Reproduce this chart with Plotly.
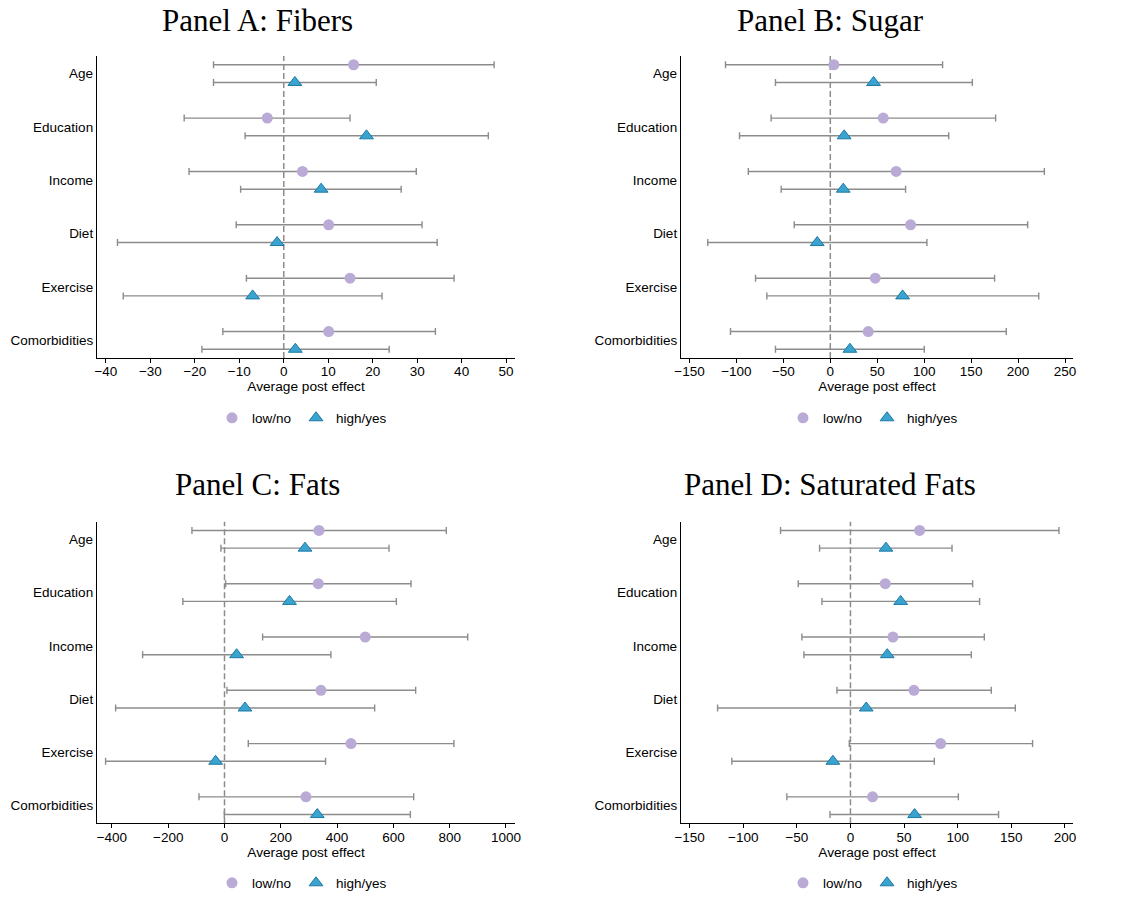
import plotly.graph_objects as go

categories = ["Age", "Education", "Income", "Diet", "Exercise", "Comorbidities"]
series_names = ["low/no", "high/yes"]
panel_titles = ["Panel A: Fibers", "Panel B: Sugar", "Panel C: Fats", "Panel D: Saturated Fats"]
x_axis_title = "Average post effect"

# Panel A: Fibers
fib_low = [15.7, -3.7, 4.2, 10.1, 14.9, 10.1]
fib_low_lo = [-15.8, -22.4, -21.3, -10.7, -8.4, -13.7]
fib_low_hi = [47.3, 14.9, 29.8, 31.1, 38.3, 34.1]
fib_high = [2.5, 18.6, 8.4, -1.5, -7.0, 2.6]
fib_high_lo = [-15.8, -8.7, -9.7, -37.4, -36.1, -18.4]
fib_high_hi = [20.8, 46.0, 26.4, 34.5, 22.1, 23.7]

# Panel B: Sugar
sug_low = [3.8, 56.4, 70.2, 85.5, 47.9, 40.4]
sug_low_lo = [-111.6, -63.0, -87.3, -38.4, -79.6, -106.3]
sug_low_hi = [119.6, 176.1, 228.0, 210.2, 175.0, 187.4]
sug_high = [46.1, 14.8, 13.8, -13.9, 77.0, 20.9]
sug_high_lo = [-58.4, -96.7, -52.3, -130.5, -67.6, -58.4]
sug_high_hi = [151.3, 126.1, 80.2, 102.9, 222.0, 100.1]

# Panel C: Fats
fat_low = [335.6, 333.0, 500.0, 342.6, 449.3, 289.4]
fat_low_lo = [-115.7, 4.0, 135.4, 8.6, 84.4, -90.8]
fat_low_hi = [788.0, 662.6, 864.0, 679.1, 815.0, 672.0]
fat_high = [286.0, 231.0, 43.0, 72.6, -31.6, 329.6]
fat_high_lo = [-12.7, -148.0, -291.0, -386.8, -422.5, -0.8]
fat_high_hi = [584.5, 610.5, 378.0, 533.4, 359.0, 660.3]

# Panel D: Saturated Fats
sat_low = [64.5, 32.5, 39.6, 59.2, 84.1, 20.6]
sat_low_lo = [-65.2, -48.7, -45.3, -12.6, -1.1, -59.3]
sat_low_hi = [194.4, 113.9, 124.8, 131.3, 169.8, 100.6]
sat_high = [33.1, 46.8, 34.3, 14.7, -16.4, 59.8]
sat_high_lo = [-28.8, -26.6, -43.4, -123.9, -110.6, -19.1]
sat_high_hi = [94.7, 120.4, 112.7, 153.7, 78.2, 138.1]

x_ranges = [[-42, 52], [-159, 258.5], [-453, 1032], [-158, 207.5]]
x_tick0 = [-40, -150, -400, -150]
x_dtick = [10, 50, 200, 50]

panels = [
    (fib_low, fib_low_lo, fib_low_hi, fib_high, fib_high_lo, fib_high_hi),
    (sug_low, sug_low_lo, sug_low_hi, sug_high, sug_high_lo, sug_high_hi),
    (fat_low, fat_low_lo, fat_low_hi, fat_high, fat_high_lo, fat_high_hi),
    (sat_low, sat_low_lo, sat_low_hi, sat_high, sat_high_lo, sat_high_hi),
]

W, H = 1136, 898
# plot areas in pixels (left, right, top, bottom)
areas = [(97, 515, 56, 358), (681, 1073, 56, 358), (97, 515, 521.7, 823.3), (681, 1073, 521.7, 823.3)]
title_pos = [(257, 20), (830, 20), (257, 485), (830, 485)]
legend_y = [418, 418, 883, 883]

LOW_COLOR = "#b9aad6"
HIGH_COLOR = "#3aa3cf"
HIGH_LINE = "#1c7aa3"
BAR_COLOR = "#8c8c8c"
SANS = "Liberation Sans, Arial, sans-serif"
SERIF = "Liberation Serif, Times New Roman, serif"

offset = 0.166
fig = go.Figure()
layout = dict(
    width=W, height=H, paper_bgcolor="white", plot_bgcolor="white",
    margin=dict(l=0, r=0, t=0, b=0, autoexpand=False), showlegend=True,
    font=dict(family=SANS, size=13.5, color="black"),
)
annotations = []
shapes = []

for p, (lo, lo_l, lo_h, hi, hi_l, hi_h) in enumerate(panels):
    n = p + 1
    xa = "x" if n == 1 else f"x{n}"
    ya = "y" if n == 1 else f"y{n}"
    leg = "legend" if n == 1 else f"legend{n}"
    ypos = list(range(len(categories)))
    fig.add_trace(go.Scatter(
        x=lo, y=[i - offset for i in ypos], mode="markers", name=series_names[0],
        xaxis=xa, yaxis=ya, legend=leg,
        marker=dict(symbol="circle", size=11, color=LOW_COLOR, line=dict(width=0)),
        error_x=dict(type="data", symmetric=False,
                     array=[h - v for h, v in zip(lo_h, lo)],
                     arrayminus=[v - l for v, l in zip(lo, lo_l)],
                     color=BAR_COLOR, thickness=1.4, width=3.5),
    ))
    fig.add_trace(go.Scatter(
        x=hi, y=[i + offset for i in ypos], mode="markers", name=series_names[1],
        xaxis=xa, yaxis=ya, legend=leg,
        marker=dict(symbol="triangle-up", size=12, color=HIGH_COLOR, line=dict(width=1, color=HIGH_LINE)),
        error_x=dict(type="data", symmetric=False,
                     array=[h - v for h, v in zip(hi_h, hi)],
                     arrayminus=[v - l for v, l in zip(hi, hi_l)],
                     color=BAR_COLOR, thickness=1.4, width=3.5),
    ))
    l, r, t, b = areas[p]
    axkey = "xaxis" if n == 1 else f"xaxis{n}"
    aykey = "yaxis" if n == 1 else f"yaxis{n}"
    layout[axkey] = dict(
        domain=[l / W, r / W], anchor=ya, range=x_ranges[p], automargin=False,
        tick0=x_tick0[p], dtick=x_dtick[p], ticks="outside", ticklen=4, tickwidth=1.2,
        tickcolor="black", showline=True, linecolor="black", linewidth=1.3,
        showgrid=False, zeroline=False, tickfont=dict(size=13.5, family=SANS, color="black"),
        ticklabelstandoff=-3,
        title=dict(text=x_axis_title, font=dict(size=13.7, family=SANS, color="black"), standoff=2),
    )
    layout[aykey] = dict(
        domain=[1 - b / H, 1 - t / H], anchor=xa, range=[len(categories) - 1 + 0.33, -0.33],
        automargin=False,
        tickvals=ypos, ticktext=categories, ticks="", showline=True, linecolor="black",
        linewidth=1.3, showgrid=False, zeroline=False,
        tickfont=dict(size=13.5, family=SANS, color="black"),
    )
    shapes.append(dict(type="line", xref=xa, yref=f"{ya} domain", x0=0, x1=0, y0=0, y1=1,
                       line=dict(color="#8c8c8c", width=1.5, dash="6px,3px"), layer="below"))
    tx, ty = title_pos[p]
    annotations.append(dict(text=panel_titles[p], x=tx / W, y=1 - ty / H, xref="paper", yref="paper",
                            xanchor="center", yanchor="middle", showarrow=False,
                            font=dict(family=SERIF, size=31, color="black")))
    layout[leg] = dict(orientation="h", x=((l + r) / 2 - 4) / W, y=1 - legend_y[p] / H,
                       xanchor="center", yanchor="middle", bgcolor="rgba(0,0,0,0)",
                       font=dict(size=13.5, family=SANS, color="black"), itemwidth=30)

layout["annotations"] = annotations
layout["shapes"] = shapes
fig.update_layout(**layout)
fig.write_html("out.html")
